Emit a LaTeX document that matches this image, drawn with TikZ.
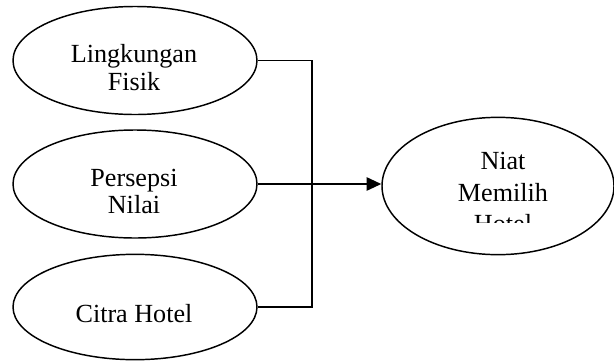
\documentclass[tikz,border=0pt]{standalone}
\usepackage{fontspec}
\setmainfont{Liberation Serif}
\usepackage{tikz}
\usetikzlibrary{arrows.meta}
\usetikzlibrary{shapes.geometric}
\tikzset{oval/.style = {draw, ellipse, line width = 1.1pt, inner sep = 0,
    minimum width = 183pt, minimum height = 81pt}}
\tikzset{txt/.style = {anchor = base, inner sep = 0,
    font = \fontsize{19.6pt}{21pt}\selectfont}}
\tikzset{wire/.style = {line width = 1.3pt}}

\begin{document}
\begin{tikzpicture}[x=0.75pt, y=-0.75pt]
    \useasboundingbox (0, 0) rectangle (614, 361);

    \node [oval] (lf) at (135, 60.5) {};
    \node [txt] (lfa) at (134, 62) {Lingkungan};
    \node [txt] (lfb) at (134, 90) {Fisik};

    \node [oval] (pn) at (135, 184) {};
    \node [txt] (pna) at (134, 186) {Persepsi};
    \node [txt] (pnb) at (134, 213) {Nilai};

    \node [oval, minimum height = 79pt] (ch) at (135, 307) {};
    \node [txt] (cha) at (134, 322) {Citra Hotel};

    \node [oval, minimum width = 174pt, minimum height = 103pt] (nm) at (498, 186) {};
    \node [txt] (nma) at (503, 169) {Niat};
    \node [txt] (nmb) at (503, 201) {Memilih};
    \begin{scope}
      \clip (385, 150) rectangle (614, 222);
      \node [txt] (nmc) at (503, 232) {Hotel};
    \end{scope}

    \coordinate (bus) at (312, 184);
    \draw [wire] (lf.east) -- (lf.east -| bus) -- (ch.east -| bus) -- (ch.east);
    \draw [wire, -{Triangle[length = 11pt, width = 10pt]}] (pn.east) -- (pn.east -| nm.west);
  \end{tikzpicture}
\end{document}
